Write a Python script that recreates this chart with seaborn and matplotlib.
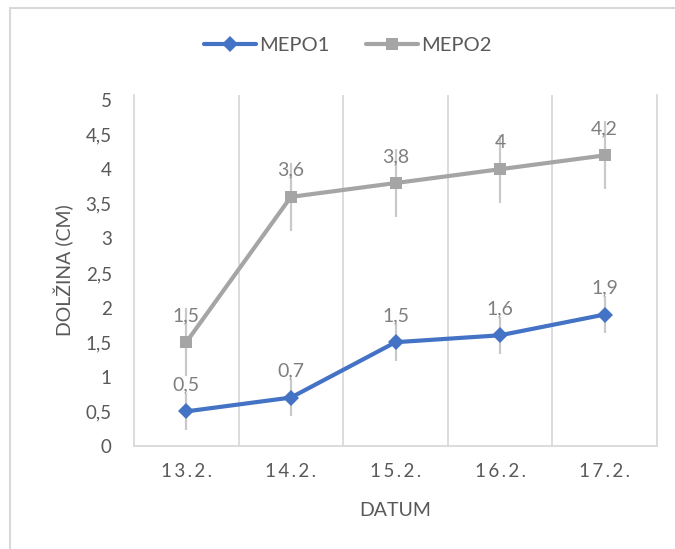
import numpy as np
import pandas as pd
import seaborn as sns
import matplotlib.pyplot as plt
from matplotlib.lines import Line2D
from matplotlib.ticker import FuncFormatter, FixedLocator

# Data
dates = ["13.2.", "14.2.", "15.2.", "16.2.", "17.2."]
mepo1 = [0.5, 0.7, 1.5, 1.6, 1.9]
mepo2 = [1.5, 3.6, 3.8, 4.0, 4.2]
series_names = ["MEPO1", "MEPO2"]
y_ticks = [0, 0.5, 1, 1.5, 2, 2.5, 3, 3.5, 4, 4.5, 5]

df = pd.DataFrame({
    "pos": list(range(len(dates))) * 2,
    "value": mepo1 + mepo2,
    "series": [series_names[0]] * len(mepo1) + [series_names[1]] * len(mepo2),
})

def std_err(vals):
    v = np.asarray(vals, dtype=float)
    return v.std(ddof=1) / np.sqrt(len(v))

sns.set_theme(style="white")
plt.rcParams["font.family"] = ["Lato", "DejaVu Sans"]

TEXT = "#595959"
LABEL = "#7f7f7f"
GRID = "#d9d9d9"
colors = {"MEPO1": "#4472c4", "MEPO2": "#a5a5a5"}
markers = {"MEPO1": "D", "MEPO2": "s"}

fig = plt.figure(figsize=(6.75, 5.49), dpi=100)
ax = fig.add_axes([134 / 675, 103 / 549, (657 - 134) / 675, (446 - 95) / 549])

# standard-error bars (no caps), drawn beneath the lines
for name, vals in zip(series_names, [mepo1, mepo2]):
    ax.errorbar(range(len(vals)), vals, yerr=std_err(vals), fmt="none",
                ecolor="#c9c9c9", elinewidth=1.6, capsize=0, zorder=2)

sns.lineplot(data=df, x="pos", y="value", hue="series", style="series",
             palette=colors, markers=markers, dashes=False, linewidth=3.0,
             markersize=8.5, markeredgewidth=0, ax=ax, legend=False, zorder=3)

# value labels above each point
for vals in [mepo1, mepo2]:
    for i, v in enumerate(vals):
        ax.annotate(f"{v:g}".replace(".", ","), (i, v), xytext=(0, 13),
                    textcoords="offset points", ha="center", va="bottom",
                    fontsize=14, color=LABEL, zorder=4)

ax.set_xlim(-0.5, len(dates) - 0.5)
ax.set_ylim(0, 5 * (446 - 95) / (446 - 100))

ax.set_xticks(range(len(dates)))
ax.set_xticklabels(["\u2009".join(d) for d in dates])
ax.xaxis.set_minor_locator(FixedLocator([i + 0.5 for i in range(len(dates) - 1)]))
ax.grid(which="minor", axis="x", color=GRID, linewidth=1.3)
ax.grid(which="major", visible=False)
ax.set_yticks(y_ticks)
ax.yaxis.set_major_formatter(FuncFormatter(lambda v, p: f"{v:g}".replace(".", ",")))
ax.tick_params(axis="both", which="both", length=0, labelsize=13.5, colors=TEXT)
ax.tick_params(axis="x", pad=12)
ax.tick_params(axis="y", pad=16)

for side in ["left", "right", "bottom"]:
    ax.spines[side].set_color(GRID)
    ax.spines[side].set_linewidth(1.3)
ax.spines["top"].set_visible(False)

ax.set_xlabel("DATUM", fontsize=14, color=TEXT, labelpad=16)
ax.set_ylabel("DOLŽINA (CM)", fontsize=14, color=TEXT, labelpad=8)

handles = [Line2D([], [], color=colors[n], marker=markers[n], markersize=8.5,
                  markeredgewidth=0, linewidth=3.0) for n in series_names]
fig.legend(handles, series_names, loc="center", bbox_to_anchor=(348 / 675, 1 - 45 / 549),
           ncol=2, frameon=False, fontsize=14.5, labelcolor=TEXT, handlelength=2.6,
           handletextpad=0.15, columnspacing=1.8)

# outer chart frame
fig.add_artist(Line2D([10 / 675, 1], [1 - 8 / 549] * 2, transform=fig.transFigure,
                      color=GRID, linewidth=1.5))
fig.add_artist(Line2D([10 / 675] * 2, [0, 1 - 8 / 549], transform=fig.transFigure,
                      color=GRID, linewidth=1.5))

fig.savefig("out.png", dpi=100)
